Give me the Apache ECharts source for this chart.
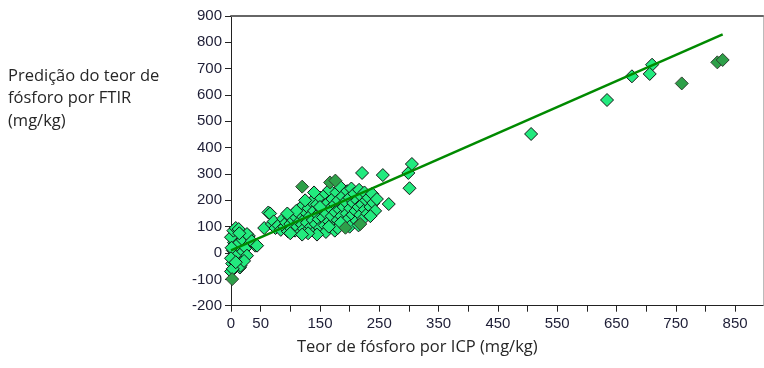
<!DOCTYPE html>
<html>
<head>
<meta charset="utf-8">
<script src="https://cdn.jsdelivr.net/npm/echarts@6/dist/echarts.min.js"></script>
<style>
  html, body { margin: 0; padding: 0; background: #fff; }
  #myChart { width: 764px; height: 368px; }
</style>
</head>
<body>
<div id="myChart"></div>
<script>
// calibração (pontos claros), x = ICP, y = FTIR
var lightPts = [
  [0,-70],[2,-40],[3,10],[5,40],[0,60],[4,85],[8,95],[10,30],[12,-20],[15,-55],
  [18,0],[20,50],[25,20],[27,-10],[30,65],[13,91],[27,72],[41,28],[16,-48],[6,-10],
  [1,20],[14,75],[22,-30],[3,-60],[35,45],[44,28],[0,-20],[8,-35],
  [56,95],[63,154],[66,150],[69,110],
  [72,120],[75,95],[80,105],[84,88],[88,130],[90,100],[93,115],[96,82],[98,140],[100,110],
  [102,92],[105,125],[106,150],[108,85],[110,135],[112,100],[114,165],[115,118],[117,78],[118,145],
  [120,108],[121,180],[123,92],[125,130],[126,155],[128,115],[130,88],[131,170],[133,140],[135,100],
  [136,195],[138,125],[140,160],[141,82],[143,110],[145,185],[146,145],[148,128],[150,95],[151,210],
  [153,165],[155,135],[156,180],[158,105],[160,225],[161,150],[163,190],[165,120],[166,240],[168,170],
  [170,140],[171,205],[173,98],[175,185],[176,155],[178,230],[180,125],[181,200],[183,165],[185,250],
  [186,140],[188,215],[190,175],[191,110],[193,195],[195,150],[196,235],[198,130],[200,210],[201,170],
  [203,245],[205,145],[206,190],[208,225],[210,160],[211,120],[213,200],[215,175],[216,240],[218,145],
  [220,215],[221,185],[223,130],[225,230],[226,165],[228,200],[230,150],[232,210],[235,175],[238,225],
  [240,190],[243,160],[246,205],[160,80],[145,70],[130,75],[175,85],[110,160],[95,150],[125,200],
  [140,230],[200,100],[215,105],[180,95],[150,175],[165,100],[185,115],[120,70],[100,75],[235,140],
  [221,304],[256,296],[266,186],[299,304],[301,246],[305,338],
  [506,452],[634,581],[676,671],[710,715],[706,680]
];
// pontos escuros
var darkPts = [
  [2,-99],[120,252],[167,268],[176,275],[193,96],[218,110],[760,644],[820,724],[829,733]
];
// reta de regressão (extremos)
var fitLine = [[0,10],[829,830]];

var yTitle = 'Predição do teor de\nfósforo por FTIR\n(mg/kg)';
var xTitle = 'Teor de fósforo por ICP (mg/kg)';

var myChart = echarts.init(document.getElementById('myChart'));
var lblStyle = { color: '#1e1e36', fontFamily: 'Liberation Sans', fontSize: 15 };

myChart.setOption({
  animation: false,
  grid: { left: 231, right: 1, top: 16, bottom: 62.3 },
  graphic: [
    { type: 'text', left: 8, top: 65,
      style: { text: yTitle, font: '16.5px "Open Sans"', fill: '#262626', lineHeight: 22.5 } },
    { type: 'text', left: 297, top: 339,
      style: { text: xTitle, font: '16.5px "Open Sans"', fill: '#262626' } }
  ],
  xAxis: [{
    type: 'value', min: 0, max: 897, interval: 50,
    axisLine: { onZero: false, lineStyle: { color: '#222', width: 1 } },
    axisTick: { length: 6, lineStyle: { color: '#222' } },
    splitLine: { show: false },
    axisLabel: Object.assign({ margin: 11, showMaxLabel: false,
      formatter: function (v) { return (v === 0 || v % 100 === 50) ? String(v) : ''; } }, lblStyle)
  }, {
    type: 'value', position: 'top', min: 0, max: 897,
    axisLine: { show: true, onZero: false, lineStyle: { color: '#666', width: 2 } },
    axisTick: { show: false }, axisLabel: { show: false }, splitLine: { show: false }
  }],
  yAxis: [{
    type: 'value', min: -200, max: 900, interval: 100,
    axisLine: { show: true, onZero: false, lineStyle: { color: '#222', width: 1 } },
    axisTick: { show: true, length: 6, lineStyle: { color: '#222' } },
    splitLine: { show: false },
    axisLabel: Object.assign({ margin: 9 }, lblStyle)
  }, {
    type: 'value', position: 'right', min: -200, max: 900,
    axisLine: { show: true, onZero: false, lineStyle: { color: '#bbb', width: 1 } },
    axisTick: { show: false }, axisLabel: { show: false }, splitLine: { show: false }
  }],
  series: [
    {
      type: 'scatter', symbol: 'diamond', symbolSize: 13,
      itemStyle: { color: '#22ea7e', borderColor: '#141414', borderWidth: 1, opacity: 1 },
      data: lightPts
    },
    {
      type: 'scatter', symbol: 'diamond', symbolSize: 13,
      itemStyle: { color: '#2ea049', borderColor: '#2f3f2f', borderWidth: 1, opacity: 1 },
      data: darkPts
    },
    {
      type: 'line', symbol: 'none', data: fitLine, z: 5,
      lineStyle: { color: '#008a00', width: 2.5 }
    }
  ]
});
</script>
</body>
</html>
